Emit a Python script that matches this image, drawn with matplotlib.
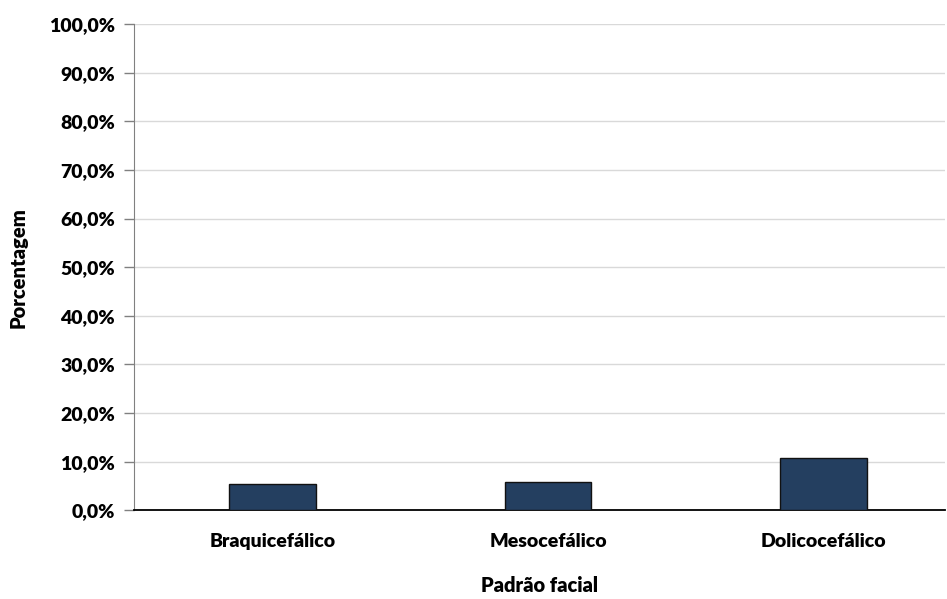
import matplotlib
matplotlib.use('Agg')
from matplotlib import pyplot as plt
from matplotlib import ticker
import numpy as np

# Facial pattern distribution (percent of sample)
categories = ['Braquicefálico', 'Mesocefálico', 'Dolicocefálico']
percent    = [5.4, 5.8, 10.7]

plt.rcParams['font.family'] = ['Lato', 'DejaVu Sans']
plt.rcParams['font.weight'] = 'bold'

fig = plt.figure(figsize=(9.47, 5.99), dpi=100)
ax = fig.add_axes([0.142, 0.148, 0.856, 0.812])

x = np.arange(len(categories))
ax.bar(x, percent, width=0.314, color='#243F60', edgecolor='#111111',
       linewidth=1.0, zorder=3)

ax.set_ylim(0, 100)
ax.set_xlim(-0.5, 2.44)
ax.yaxis.set_major_locator(ticker.MultipleLocator(10))
ax.yaxis.set_major_formatter(
    ticker.FuncFormatter(lambda v, p: f'{v:.1f}%'.replace('.', ',')))
ax.grid(axis='y', color='#d9d9d9', linewidth=1.0, zorder=0)

ax.set_xticks(x)
ax.set_xticklabels(categories)
ax.tick_params(axis='x', length=0, pad=16, labelsize=14)
ax.tick_params(axis='y', length=7, width=1, color='#808080', labelsize=14, pad=7)
for lab in ax.get_xticklabels() + ax.get_yticklabels():
    lab.set_fontweight('heavy')

for s in ['top', 'right']:
    ax.spines[s].set_visible(False)
ax.spines['left'].set_color('#808080')
ax.spines['bottom'].set_color('#000000')
ax.spines['bottom'].set_linewidth(1.3)

ax.set_xlabel('Padrão facial', fontsize=14.5, fontweight='heavy', va='center')
ax.set_ylabel('Porcentagem', fontsize=14.5, fontweight='heavy', va='center')
ax.xaxis.set_label_coords(0.5, -0.154)
ax.yaxis.set_label_coords(-0.144, 0.5)

plt.savefig('out.png', dpi=100)
